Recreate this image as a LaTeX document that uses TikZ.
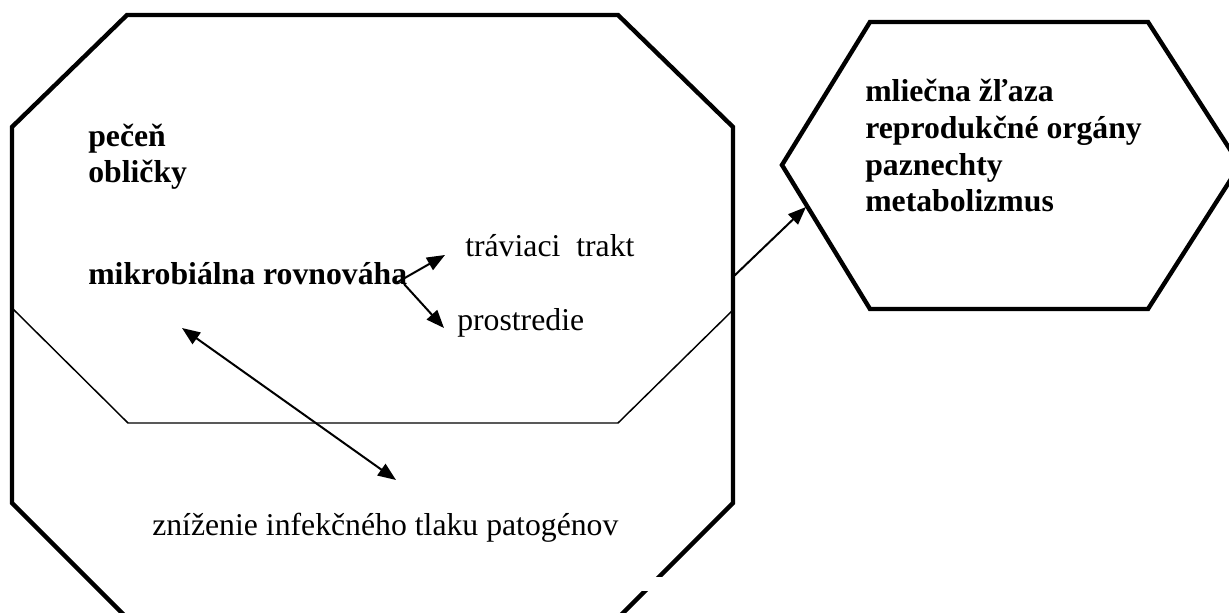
\documentclass[tikz,border=0pt]{standalone}
\usepackage{fontspec}
\setmainfont{Liberation Serif}
\usetikzlibrary{arrows.meta}
\begin{document}
\begin{tikzpicture}[x=0.75pt,y=-0.75pt,
  txt/.style={anchor=base west,inner sep=0pt,font=\fontsize{23.8}{27.6}\selectfont},
  bld/.style={txt,font=\fontsize{23.8}{27.6}\selectfont\bfseries},
  arr/.style={line width=1.5pt,-{Triangle[length=13.5pt,width=10.5pt]}},
  dblarr/.style={line width=1.5pt,{Triangle[length=13.5pt,width=10.5pt]}-{Triangle[length=13.5pt,width=10.5pt]}}]
\useasboundingbox (0,0) rectangle (1229,613);
\clip (0,0) rectangle (1229,613);
% big octagon
\draw[line width=3.3pt] (132,623) -- (12,503) -- (12,127) -- (127,15) -- (618,15) -- (733,127) -- (733,503) -- (613,623);
\fill[white] (638,577) rectangle (672,591);
\draw[line width=1.1pt] (12,308) -- (128,423) -- (618,423) -- (733,310);
% hexagon
\draw[line width=3.3pt] (782,165) -- (870,22) -- (1148,22) -- (1240,165) -- (1148,309) -- (870,309) -- cycle;
\node[bld] (liver) at (88,147) {pečeň};
\node[bld] (kidney) at (88,183) {obličky};
\node[bld] (micro) at (88,285) {mikrobiálna rovnováha};
\node[txt] (gut) at (465,257) {tráviaci~~trakt};
\node[txt] (env) at (457,330) {prostredie};
\node[txt] (pathog) at (152,535) {zníženie infekčného tlaku patogénov};
\node[bld,align=left] (organs) at (865,212) {mliečna žľaza\\reprodukčné orgány\\paznechty\\metabolizmus};
\coordinate (fork1) at (396,283);
\coordinate (fork2) at (404,284);
\coordinate (gut-in) at (445,255);
\coordinate (env-in) at (444,328);
\coordinate (micro-in) at (182,328);
\coordinate (pathog-in) at (396,480);
\coordinate (oct-out) at (733,277);
\coordinate (hex-in) at (806,207);
\draw[arr] (fork1) -- (gut-in);
\draw[arr] (fork2) -- (env-in);
\draw[dblarr] (micro-in) -- (pathog-in);
\draw[arr] (oct-out) -- (hex-in);
\end{tikzpicture}
\end{document}
